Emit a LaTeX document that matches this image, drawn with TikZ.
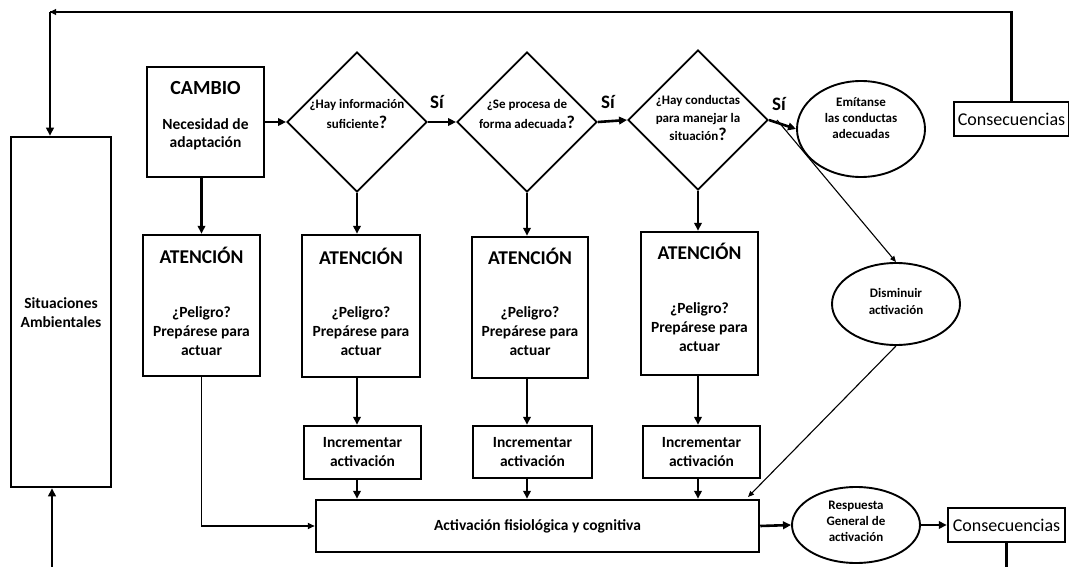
\documentclass[tikz,border=0pt]{standalone}
\usepackage{fontspec}
\setmainfont{Carlito}
\usetikzlibrary{shapes.geometric,arrows.meta}
\newcommand{\bq}{{\fontsize{18}{18}\selectfont ?}}
\begin{document}
\begin{tikzpicture}[x=1pt,y=-1pt,
  box/.style={draw, line width=2.5pt, inner sep=0pt},
  dia/.style={draw, diamond, line width=1.9pt, inner sep=0pt, minimum width=140pt, minimum height=140pt},
  ell/.style={draw, ellipse, line width=1.9pt, inner sep=0pt},
  ttl/.style={font=\bfseries\fontsize{19.5}{20}\selectfont, inner sep=0pt},
  body/.style={font=\bfseries\fontsize{15.5}{19}\selectfont, align=center, inner sep=0pt},
  dtxt/.style={font=\bfseries\fontsize{13}{20}\selectfont, align=center, inner sep=0pt},
  etxt/.style={font=\bfseries\fontsize{13}{16}\selectfont, align=center, inner sep=0pt},
  si/.style={font=\bfseries\fontsize{19}{20}\selectfont, inner sep=0pt},
  cons/.style={font=\fontsize{18}{20}\selectfont},
  arr/.style={line width=2.6pt, -{Triangle[length=8pt,width=7.5pt]}},
  tarr/.style={line width=1.6pt, -{Triangle[length=7pt,width=6pt]}},
  darr/.style={line width=1.1pt, -{Triangle[length=6pt,width=5pt]}}
]
\useasboundingbox (0,0) rectangle (1069,567);

% left column
\node[box, minimum width=100pt, minimum height=350pt] (sit) at (61,312) {};
\node[body] (sittxt) at (61,313) {Situaciones\\Ambientales};

% CAMBIO
\node[box, minimum width=117pt, minimum height=110pt] (cambio) at (205.5,122) {};
\node[ttl, font=\bfseries\fontsize{20}{20}\selectfont] (cambiot) at (205.5,88) {CAMBIO};
\node[body, font=\bfseries\fontsize{15.5}{18}\selectfont] (cambiob) at (205.5,134) {Necesidad de\\adaptación};

% diamonds
\node[dia] (d1) at (357,122) {};
\node[dtxt] (d1t) at (357,114) {¿Hay información\\suficiente\bq};
\node[dia] (d2) at (527,122) {};
\node[dtxt] (d2t) at (527,114) {¿Se procesa de\\forma adecuada\bq};
\node[dia] (d3) at (698,120) {};
\node[dtxt, font=\bfseries\fontsize{13}{18}\selectfont] (d3t) at (698,118) {¿Hay conductas\\para manejar la\\situación\bq};

\node[si] (si1) at (437,102) {Sí};
\node[si] (si2) at (608,102) {Sí};
\node[si] (si3) at (779,104) {Sí};

% ellipses
\node[ell, minimum width=128pt, minimum height=96pt] (emit) at (861,129) {};
\node[etxt] (emitt) at (861,118) {Emítanse\\las conductas\\adecuadas};
\node[ell, minimum width=128pt, minimum height=82pt] (dism) at (896,304) {};
\node[etxt, font=\bfseries\fontsize{13}{17}\selectfont] (dismt) at (896,301.5) {Disminuir\\activación};
\node[ell, minimum width=128pt, minimum height=76pt] (resp) at (856,525) {};
\node[etxt] (respt) at (856,521) {Respuesta\\General de\\activación};

% consecuencias
\node[box, minimum width=115pt, minimum height=34pt, cons] (cons1) at (1011.5,119) {Consecuencias};
\node[box, minimum width=117pt, minimum height=34pt, cons] (cons2) at (1006.5,525) {Consecuencias};

% ATENCION boxes
\node[box, minimum width=117pt, minimum height=141pt] (a0) at (201.5,305.5) {};
\node[box, minimum width=118pt, minimum height=142pt] (a1) at (361,306) {};
\node[box, minimum width=116pt, minimum height=141pt] (a2) at (530,307.5) {};
\node[box, minimum width=117pt, minimum height=143pt] (a3) at (699.5,303.5) {};
\node[ttl] (a0t) at (201.5,255) {ATENCIÓN};
\node[ttl] (a1t) at (361,256) {ATENCIÓN};
\node[ttl] (a2t) at (530,256) {ATENCIÓN};
\node[ttl] (a3t) at (699.5,251) {ATENCIÓN};
\node[body] (a0b) at (201.5,331) {¿Peligro?\\Prepárese para\\actuar};
\node[body] (a1b) at (361,331) {¿Peligro?\\Prepárese para\\actuar};
\node[body] (a2b) at (530,331) {¿Peligro?\\Prepárese para\\actuar};
\node[body] (a3b) at (699.5,327) {¿Peligro?\\Prepárese para\\actuar};

% Incrementar
\node[box, minimum width=117pt, minimum height=53pt, body] (i1) at (362.5,452.5) {Incrementar\\activación};
\node[box, minimum width=119pt, minimum height=52pt, body] (i2) at (532.5,452) {Incrementar\\activación};
\node[box, minimum width=117pt, minimum height=52pt, body] (i3) at (701.5,452) {Incrementar\\activación};

% Activacion
\node[box, minimum width=443pt, minimum height=52pt, body] (act) at (537.5,526) {Activación fisiológica y cognitiva};

% coordinates
\coordinate (tl) at (50,12);
\coordinate (sitin) at (52,567);
\coordinate (c2end) at (1006.5,567);
\coordinate (dstart) at (777,120);
\coordinate (dend) at (748,497);

% connectors
\draw[line width=2.4pt] (cons1.north) |- (tl);
\draw[line width=1pt, -{Triangle[length=6pt,width=6pt]}] ([xshift=8pt]tl) -- (tl);
\draw[arr] (tl) -- (tl |- sit.north);
\draw[arr] (sitin) -- (sitin |- sit.south);

\draw[arr] (cambio.east) -- (d1.west);
\draw[arr] (d1.east) -- (d2.west);
\draw[arr] (d2.east) -- (d3.west);
\draw[arr] (d3.east) -- (emit.west);

\draw[arr] (a0.north |- cambio.south) -- (a0.north);
\draw[arr] (d1.south) -- (d1.south |- a1.north);
\draw[arr] (d2.south) -- (d2.south |- a2.north);
\draw[arr] (d3.south) -- (d3.south |- a3.north);

\draw[arr] (d1.south |- a1.south) -- (d1.south |- i1.north);
\draw[arr] (d2.south |- a2.south) -- (d2.south |- i2.north);
\draw[arr] (d3.south |- a3.south) -- (d3.south |- i3.north);

\draw[arr] (d1.south |- i1.south) -- (d1.south |- act.north);
\draw[arr] (d2.south |- i2.south) -- (d2.south |- act.north);
\draw[arr] (d3.south |- i3.south) -- (d3.south |- act.north);

\draw[tarr] (a0.south) |- (act.west);

\draw[darr] (dstart) -- (dism.north);
\draw[darr] (dism.south) -- (dend);

\draw[arr] (act.east) -- (resp.west);
\draw[arr] (resp.east) -- (cons2.west);
\draw[line width=2.4pt] (cons2.south) -- (c2end);
\end{tikzpicture}
\end{document}
